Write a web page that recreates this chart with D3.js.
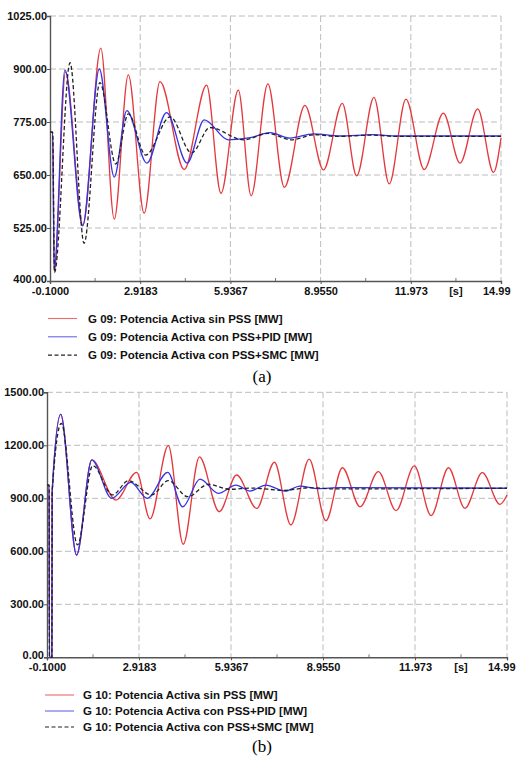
<!DOCTYPE html>
<html>
<head>
<meta charset="utf-8">
<script src="https://cdn.jsdelivr.net/npm/d3@7"></script>
<style>
body { margin: 0; background: #fff; }
text { font-family: "Liberation Sans", Arial, sans-serif; }
</style>
</head>
<body>
<div id="chart"></div>
<script>
// time axis (s)
var xTicks = [-0.1, 2.9183, 5.9367, 8.955, 11.973, 14.99]
var xTickLabels = ["-0.1000", "2.9183", "5.9367", "8.9550", "11.973", "14.99"]
var yTicksA = [400, 525, 650, 775, 900, 1025]
var yTicksB = [0, 300, 600, 900, 1200, 1500]

var legendA = ["G 09: Potencia Activa sin PSS [MW]", "G 09: Potencia Activa con PSS+PID [MW]", "G 09: Potencia Activa con PSS+SMC [MW]"]
var legendB = ["G 10: Potencia Activa sin PSS [MW]", "G 10: Potencia Activa con PSS+PID [MW]", "G 10: Potencia Activa con PSS+SMC [MW]"]

// G 09 - [t, MW] read at the turning points
var sinPssA = [[-0.1,751],[-0.01,751],[0.04,422],[0.42,893],[1.0,532],[1.6,949],[2.05,546],[2.52,886],[3.05,560],[3.58,870],[4.39,663],[5.14,862],[5.62,607],[6.2,850],[6.63,601],[7.19,865],[7.74,621],[8.43,814],[9.05,662],[9.68,819],[10.16,648],[10.74,833],[11.25,629],[11.81,829],[12.42,663],[13.06,796],[13.62,678],[14.21,806],[14.74,656],[14.99,737]]
var pidA = [[-0.1,751],[-0.01,751],[0.04,425],[0.4,898],[0.99,530],[1.55,900],[2.05,645],[2.47,802],[3.14,678],[3.8,797],[4.49,678],[5.06,780],[5.87,733],[6.6,738],[7.26,750],[7.93,737],[8.71,747],[9.6,742],[10.7,745],[11.5,742],[14.99,742]]
var smcA = [[-0.1,751],[-0.01,751],[0.05,420],[0.57,915],[1.04,489],[1.57,868],[2.1,676],[2.52,794],[3.1,697],[3.92,787],[4.64,702],[5.25,762],[6.37,733],[7.2,748],[7.98,733],[8.75,745],[9.5,741],[10.7,744],[11.5,741],[14.99,741]]

// G 10
var sinPssB = [[-0.1,975],[-0.03,975],[-0.02,0],[0.06,0],[0.07,937],[0.35,1375],[0.87,579],[1.37,1117],[2.16,890],[2.84,1047],[3.28,783],[3.88,1198],[4.37,640],[4.9,1135],[5.55,824],[6.12,1032],[6.78,843],[7.36,1104],[7.9,749],[8.5,1122],[9.05,773],[9.59,1073],[10.17,852],[10.77,1051],[11.35,830],[11.95,1083],[12.5,802],[13.07,1073],[13.61,843],[14.18,1045],[14.76,866],[14.99,919]]
var pidB = [[-0.1,975],[-0.03,975],[-0.02,0],[0.06,0],[0.07,937],[0.35,1375],[0.87,579],[1.37,1117],[2.02,900],[2.65,990],[3.19,900],[3.86,1047],[4.35,852],[4.92,1009],[5.52,928],[6.1,975],[6.56,941],[7.08,975],[7.71,941],[8.2,969],[8.8,955],[9.5,960],[14.99,957]]
var smcB = [[-0.1,975],[-0.03,975],[-0.02,0],[0.06,0],[0.07,937],[0.37,1324],[0.9,636],[1.4,1085],[2.05,919],[2.57,1000],[3.33,919],[3.88,1000],[4.52,909],[5.19,979],[5.9,951],[6.6,958],[7.7,945],[8.5,960],[9.3,953],[14.99,957]]

var colors = ["#e3383c", "#3434e4", "#222"]
var dashes = [null, null, "4,2.5"]

var svg = d3.select("#chart").append("svg").attr("width", 516).attr("height", 761)

function panel(o) {
    var x = d3.scaleLinear().domain([xTicks[0], xTicks[xTicks.length - 1]]).range([o.left, o.right])
    var y = d3.scaleLinear().domain([o.yTicks[0], o.yTicks[o.yTicks.length - 1]]).range([o.bottom, o.top])
    var g = svg.append("g")

    // dashed grid, also forms the top and right frame
    g.selectAll(null).data(o.yTicks.slice(1)).enter().append("line")
        .attr("x1", o.left).attr("x2", o.right)
        .attr("y1", d => y(d)).attr("y2", d => y(d))
        .attr("stroke", "#bcbcbc").attr("stroke-dasharray", "6,3")
    g.selectAll(null).data(xTicks.slice(1)).enter().append("line")
        .attr("x1", d => x(d)).attr("x2", d => x(d))
        .attr("y1", o.top).attr("y2", o.bottom)
        .attr("stroke", "#bcbcbc").attr("stroke-dasharray", "6,3")

    // minor ticks between the labelled ones
    var mids = d3.pairs(xTicks, (a, b) => (a + b) / 2)
    g.selectAll(null).data(mids).enter().append("line")
        .attr("x1", d => x(d)).attr("x2", d => x(d))
        .attr("y1", o.bottom).attr("y2", o.bottom - 3)
        .attr("stroke", "#777")

    var xa = g.append("g").attr("transform", "translate(0," + o.bottom + ")")
        .call(d3.axisBottom(x).tickValues(xTicks).tickFormat((d, i) => xTickLabels[i]).tickSize(3).tickPadding(3))
    var ya = g.append("g").attr("transform", "translate(" + o.left + ",0)")
        .call(d3.axisLeft(y).tickValues(o.yTicks).tickFormat(d3.format(".2f")).tickSize(3).tickPadding(0))
    ;[xa, ya].forEach(a => {
        a.select(".domain").attr("stroke", "#555").attr("stroke-width", 1.4)
        a.selectAll(".tick line").attr("stroke", "#555")
        a.selectAll("text").attr("font-size", 11).attr("font-weight", "bold").attr("fill", "#111")
            .attr("font-family", "'Liberation Sans', Arial, sans-serif")
    })
    // last label is pulled in so it stays on the page
    xa.selectAll(".tick text").filter((d, i) => i === xTicks.length - 1)
        .attr("text-anchor", "end").attr("x", o.lastLabelEnd - x(xTicks[xTicks.length - 1]))
    // lowest value label sits a touch higher, clear of the time labels
    ya.selectAll(".tick text").filter((d, i) => i === 0).attr("y", -2)

    g.append("text")
        .attr("x", x(mids[4])).attr("y", o.bottom + 6).attr("dy", "0.71em")
        .attr("text-anchor", "middle").attr("font-size", 11).attr("font-weight", "bold").attr("fill", "#111")
        .text("[s]")

    var lineFunc = d3.line().curve(d3.curveMonotoneX)
        .x(d => x(d[0])).y(d => y(d[1]))

    o.series.forEach((s, i) => {
        g.append("path")
            .attr("d", lineFunc(s))
            .attr("fill", "none")
            .attr("stroke", colors[i])
            .attr("stroke-width", 1.3)
            .attr("stroke-dasharray", dashes[i])
    })

    // legend
    var lg = g.selectAll(null).data(o.legend).enter().append("g")
        .attr("transform", (d, i) => "translate(0," + (o.legendY + i * o.legendStep) + ")")
    lg.append("line")
        .attr("x1", o.legendX).attr("x2", o.legendX + 29)
        .attr("stroke", (d, i) => colors[i])
        .attr("stroke-width", 1.1)
        .attr("stroke-opacity", (d, i) => i < 2 ? 0.75 : 1)
        .attr("stroke-dasharray", (d, i) => dashes[i])
    lg.append("text")
        .attr("x", o.legendX + o.textGap).attr("dy", "0.35em")
        .attr("font-size", 11.5).attr("font-weight", "bold").attr("fill", "#111")
        .text(d => d)

    svg.append("text")
        .attr("x", 262).attr("y", o.captionY)
        .attr("text-anchor", "middle")
        .style("font-family", "'Liberation Serif', 'Times New Roman', serif")
        .style("font-size", "17px")
        .text(o.caption)
}

panel({left: 50, right: 501, top: 16, bottom: 281, yTicks: yTicksA,
    series: [sinPssA, pidA, smcA], legend: legendA, lastLabelEnd: 510,
    legendX: 48, textGap: 40, legendY: 318.5, legendStep: 18.3, captionY: 381.5, caption: "(a)"})

panel({left: 47, right: 507, top: 392.3, bottom: 657.3, yTicks: yTicksB,
    series: [sinPssB, pidB, smcB], legend: legendB, lastLabelEnd: 515,
    legendX: 45, textGap: 38, legendY: 695, legendStep: 16, captionY: 751.5, caption: "(b)"})
</script>
</body>
</html>
